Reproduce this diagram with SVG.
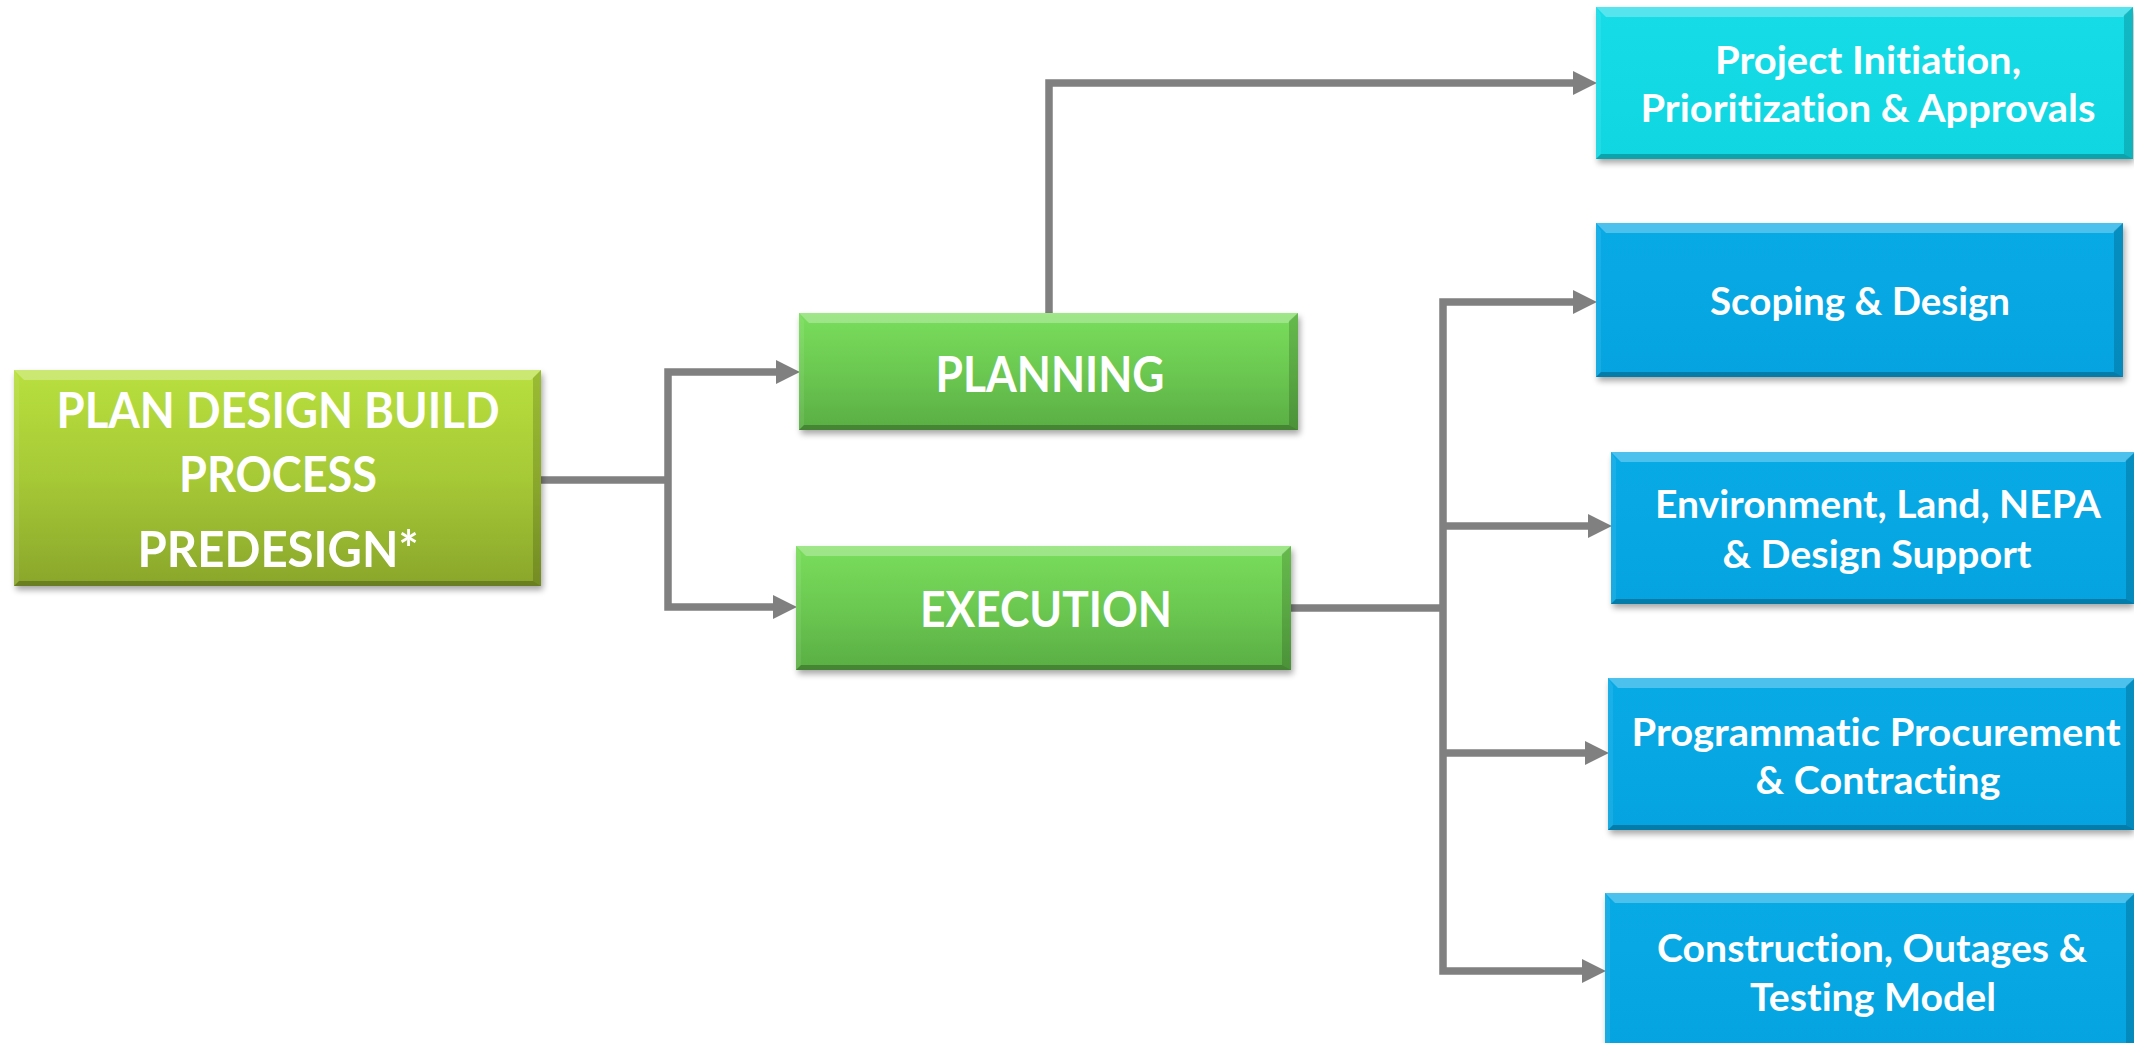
<svg xmlns="http://www.w3.org/2000/svg" width="2134" height="1043" viewBox="0 0 2134 1043">
<style>
.lbl{font-family:Lato,"Open Sans","Liberation Sans",sans-serif;font-weight:700;fill:#ffffff;text-anchor:middle;font-variant-ligatures:none;font-feature-settings:"liga" 0,"clig" 0,"dlig" 0}
.big{font-size:49px}
.sm{font-size:39px}
.bt{fill:#ffffff;opacity:.28}
.bl{fill:#ffffff;opacity:.08}
.br{fill:#000000;opacity:.16}
.bb{fill:#000000;opacity:.24}
.sh{fill:#000000;opacity:.35;filter:url(#blur)}
.conn path{fill:none;stroke:#808080;stroke-width:7.5;stroke-linejoin:miter;marker-end:url(#arr)}
.conn path.plain{marker-end:none}
</style>
<defs>
<filter id="blur" x="-10%" y="-20%" width="120%" height="140%"><feGaussianBlur stdDeviation="3"/></filter>
<linearGradient id="gMain" x1="0" y1="0" x2="0" y2="1"><stop offset="0" stop-color="#b8e03e"/><stop offset="0.5" stop-color="#a6c936"/><stop offset="1" stop-color="#8aa62b"/></linearGradient>
<linearGradient id="gGreen" x1="0" y1="0" x2="0" y2="1"><stop offset="0" stop-color="#7ade5c"/><stop offset="0.5" stop-color="#6bc851"/><stop offset="1" stop-color="#5aae44"/></linearGradient>
<linearGradient id="gCyan" x1="0" y1="0" x2="0" y2="1"><stop offset="0" stop-color="#16dce8"/><stop offset="1" stop-color="#10d6e2"/></linearGradient>
<linearGradient id="gBlue" x1="0" y1="0" x2="0" y2="1"><stop offset="0" stop-color="#08aae6"/><stop offset="1" stop-color="#05a4e0"/></linearGradient>
<marker id="arr" markerUnits="userSpaceOnUse" markerWidth="24" markerHeight="24" viewBox="0 0 22 22" refX="1" refY="11" orient="auto"><path d="M0,0 L22,11 L0,22 Z" fill="#808080"/></marker>
</defs>
<rect width="2134" height="1043" fill="#ffffff"/>

<g class="conn" id="connectors">
<path class="plain" d="M540,480 H668"/>
<path d="M668,480 V372 H777"/>
<path d="M668,480 V607 H774"/>
<path d="M1049,313 V83 H1574"/>
<path class="plain" d="M1291,608 H1443"/>
<path d="M1443,608 V302 H1574"/>
<path d="M1443,526 H1589"/>
<path d="M1443,753 H1586"/>
<path d="M1443,608 V971 H1583"/>
</g>

<g id="node-main">
<rect class="sh" x="16" y="374" width="527" height="216"/>
<rect x="14" y="370" width="527" height="216" fill="url(#gMain)"/>
<polygon class="bt" points="14,370 541,370 531,380 24,380"/>
<polygon class="bl" points="14,370 19,378 19,581 14,586"/>
<polygon class="br" points="541,370 541,586 533,581 533,378"/>
<polygon class="bb" points="14,586 541,586 533,581 19,581"/>
<text class="lbl big" x="278" y="428" textLength="443" lengthAdjust="spacingAndGlyphs">PLAN DESIGN BUILD</text>
<text class="lbl big" x="278" y="492" textLength="198" lengthAdjust="spacingAndGlyphs">PROCESS</text>
<text class="lbl big" x="278" y="567" textLength="281" lengthAdjust="spacingAndGlyphs">PREDESIGN*</text>
</g>

<g id="node-planning">
<rect class="sh" x="801" y="317" width="499" height="117"/>
<rect x="799" y="313" width="499" height="117" fill="url(#gGreen)"/>
<polygon class="bt" points="799,313 1298,313 1288,323 809,323"/>
<polygon class="bl" points="799,313 804,321 804,425 799,430"/>
<polygon class="br" points="1298,313 1298,430 1289,425 1289,321"/>
<polygon class="bb" points="799,430 1298,430 1289,425 804,425"/>
<text class="lbl big" x="1050" y="392" textLength="229" lengthAdjust="spacingAndGlyphs">PLANNING</text>
</g>

<g id="node-execution">
<rect class="sh" x="798" y="550" width="495" height="124"/>
<rect x="796" y="546" width="495" height="124" fill="url(#gGreen)"/>
<polygon class="bt" points="796,546 1291,546 1281,556 806,556"/>
<polygon class="bl" points="796,546 801,554 801,665 796,670"/>
<polygon class="br" points="1291,546 1291,670 1282,665 1282,554"/>
<polygon class="bb" points="796,670 1291,670 1282,665 801,665"/>
<text class="lbl big" x="1046" y="627" textLength="252" lengthAdjust="spacingAndGlyphs">EXECUTION</text>
</g>

<g id="node-project">
<rect class="sh" x="1598" y="11" width="536" height="152"/>
<rect x="1596" y="7" width="537" height="152" fill="url(#gCyan)"/>
<polygon class="bt" points="1596,7 2133,7 2123,17 1606,17"/>
<polygon class="bl" points="1596,7 1601,15 1601,154 1596,159"/>
<polygon class="br" points="2133,7 2133,159 2124,154 2124,15"/>
<polygon class="bb" points="1596,159 2133,159 2124,154 1601,154"/>
<text class="lbl sm" x="1868" y="74" textLength="306" lengthAdjust="spacingAndGlyphs">Project Initiation,</text>
<text class="lbl sm" x="1868" y="122" textLength="455" lengthAdjust="spacingAndGlyphs">Prioritization &amp; Approvals</text>
</g>

<g id="node-scoping">
<rect class="sh" x="1598" y="227" width="527" height="154"/>
<rect x="1596" y="223" width="527" height="154" fill="url(#gBlue)"/>
<polygon class="bt" points="1596,223 2123,223 2113,233 1606,233"/>
<polygon class="bl" points="1596,223 1601,231 1601,372 1596,377"/>
<polygon class="br" points="2123,223 2123,377 2114,372 2114,231"/>
<polygon class="bb" points="1596,377 2123,377 2114,372 1601,372"/>
<text class="lbl sm" x="1860" y="315" textLength="300" lengthAdjust="spacingAndGlyphs">Scoping &amp; Design</text>
</g>

<g id="node-environment">
<rect class="sh" x="1613" y="456" width="521" height="152"/>
<rect x="1611" y="452" width="524" height="152" fill="url(#gBlue)"/>
<polygon class="bt" points="1611,452 2135,452 2125,462 1621,462"/>
<polygon class="bl" points="1611,452 1616,460 1616,599 1611,604"/>
<polygon class="br" points="2135,452 2135,604 2126,599 2126,460"/>
<polygon class="bb" points="1611,604 2135,604 2126,599 1616,599"/>
<text class="lbl sm" x="1878" y="518" textLength="446" lengthAdjust="spacingAndGlyphs">Environment, Land, NEPA</text>
<text class="lbl sm" x="1877" y="568" textLength="309" lengthAdjust="spacingAndGlyphs">&amp; Design Support</text>
</g>

<g id="node-programmatic">
<rect class="sh" x="1610" y="682" width="524" height="152"/>
<rect x="1608" y="678" width="527" height="152" fill="url(#gBlue)"/>
<polygon class="bt" points="1608,678 2135,678 2125,688 1618,688"/>
<polygon class="bl" points="1608,678 1613,686 1613,825 1608,830"/>
<polygon class="br" points="2135,678 2135,830 2126,825 2126,686"/>
<polygon class="bb" points="1608,830 2135,830 2126,825 1613,825"/>
<text class="lbl sm" x="1876" y="746" textLength="489" lengthAdjust="spacingAndGlyphs">Programmatic Procurement</text>
<text class="lbl sm" x="1878" y="794" textLength="245" lengthAdjust="spacingAndGlyphs">&amp; Contracting</text>
</g>

<g id="node-construction">
<rect class="sh" x="1607" y="897" width="527" height="160"/>
<rect x="1605" y="893" width="530" height="160" fill="url(#gBlue)"/>
<polygon class="bt" points="1605,893 2135,893 2125,903 1615,903"/>
<polygon class="bl" points="1605,893 1610,901 1610,1053 1605,1053"/>
<polygon class="br" points="2135,893 2135,1053 2126,1053 2126,901"/>
<text class="lbl sm" x="1872" y="962" textLength="430" lengthAdjust="spacingAndGlyphs">Construction, Outages &amp;</text>
<text class="lbl sm" x="1873" y="1011" textLength="246" lengthAdjust="spacingAndGlyphs">Testing Model</text>
</g>
</svg>
